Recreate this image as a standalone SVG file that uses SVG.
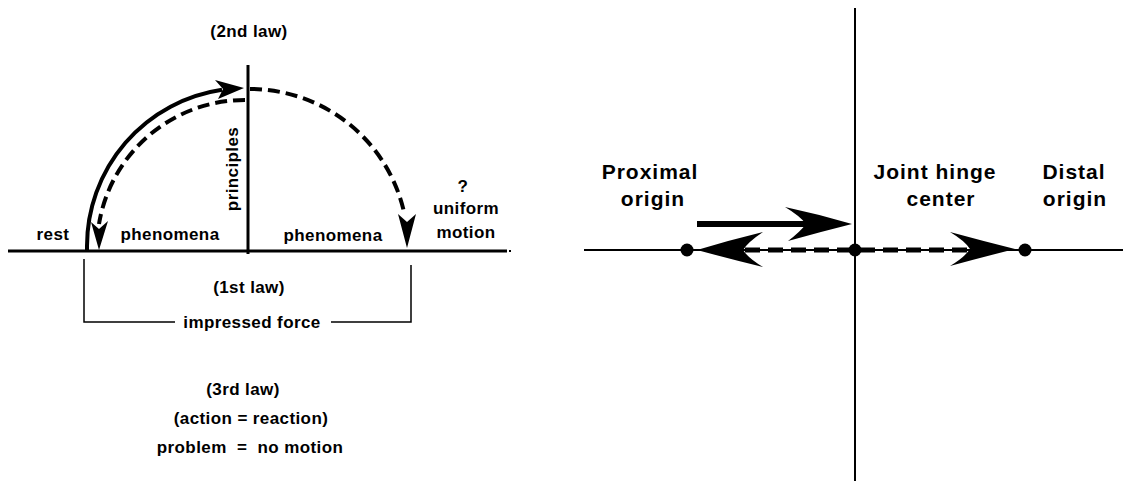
<svg xmlns="http://www.w3.org/2000/svg" width="1123" height="486" viewBox="0 0 1123 486">
<style>
.t{font-family:"Liberation Sans",Arial,sans-serif;font-weight:bold;font-size:17px;fill:#000;text-anchor:middle;letter-spacing:0.4px}
.T{font-family:"Liberation Sans",Arial,sans-serif;font-weight:bold;font-size:21px;fill:#000;text-anchor:middle;letter-spacing:1px}
.ln{stroke:#000;fill:none}
.ah{fill:#000;stroke:none}
.dash{stroke:#000;fill:none;stroke-width:4;stroke-dasharray:12 6}
.dashR{stroke:#000;fill:none;stroke-width:5;stroke-dasharray:15 8}
</style>
<rect width="1123" height="486" fill="#fff"/>

<!-- LEFT DIAGRAM -->
<g id="left-axes">
  <line class="ln" x1="8" y1="251" x2="507" y2="251" stroke-width="3"/>
  <rect x="509" y="250" width="2" height="2" fill="#000"/>
  <line class="ln" x1="248" y1="65" x2="248" y2="254" stroke-width="3"/>
</g>
<g id="bracket">
  <polyline class="ln" stroke-width="1.5" points="84,259 84,322 175,322"/>
  <polyline class="ln" stroke-width="1.5" points="331,322 411,322 411,265"/>
</g>
<g id="connectors">
  <!-- solid arc to principles -->
  <path class="ln" stroke-width="4" d="M87,250 L87,246 A158,158 0 0 1 222,89.7"/>
  <path class="ah" d="M244,88 L215,80 L223,89 L218,99 Z"/>
  <!-- dashed arc back down left -->
  <path class="dash" d="M245,100 A148,148 0 0 0 99,224"/>
  <path class="ah" d="M99,250 L91,222 L99,229 L108,221 Z"/>
  <!-- dashed arc down right -->
  <path class="dash" d="M250,89 A158,158 0 0 1 404,212"/>
  <path class="ah" d="M407,248 L398,214 L407,222 L416,214 Z"/>

  <!-- RIGHT DIAGRAM connectors -->
  <line class="ln" x1="697" y1="224" x2="808" y2="224" stroke-width="6"/>
  <path class="ah" d="M852,224 Q818,214 785,207 Q800,216 806,224 Q800,232 788,241 Q820,232 852,224 Z"/>
  <line class="dashR" x1="745" y1="250" x2="855" y2="250"/>
  <path class="ah" d="M697,250 Q730,240 763,232 Q748,242 743,250 Q748,258 763,267 Q730,259 697,250 Z"/>
  <line class="dashR" x1="860" y1="250" x2="972" y2="250"/>
  <path class="ah" d="M1015,249 Q983,241 950,232 Q965,241 970,249 Q965,257 950,266 Q983,257 1015,249 Z"/>
</g>

<g id="left-labels">
  <text class="t" x="249" y="37">(2nd law)</text>
  <text class="t" transform="translate(238,169) rotate(-90)">principles</text>
  <text class="t" x="53" y="240">rest</text>
  <text class="t" x="170" y="240">phenomena</text>
  <text class="t" x="333" y="241">phenomena</text>
  <text class="t" x="463" y="192">?</text>
  <text class="t" x="466" y="214">uniform</text>
  <text class="t" x="466" y="238">motion</text>
  <text class="t" x="249" y="293">(1st law)</text>
  <text class="t" x="252" y="328">impressed force</text>
  <text class="t" x="243" y="395">(3rd law)</text>
  <text class="t" x="251" y="424">(action = reaction)</text>
  <text class="t" x="250" y="453" xml:space="preserve">problem  =  no motion</text>
</g>

<!-- RIGHT DIAGRAM -->
<g id="right-axes">
  <line class="ln" x1="584" y1="250" x2="1123" y2="250" stroke-width="2"/>
  <line class="ln" x1="855" y1="8" x2="855" y2="481" stroke-width="2"/>
</g>
<g id="proximal-origin">
  <circle cx="687" cy="250" r="6.5" fill="#000"/>
  <text class="T" x="650" y="179">Proximal</text>
  <text class="T" x="653" y="206">origin</text>
</g>
<g id="joint-hinge-center">
  <circle cx="855" cy="250" r="6.5" fill="#000"/>
  <text class="T" x="935" y="179">Joint hinge</text>
  <text class="T" x="941" y="206">center</text>
</g>
<g id="distal-origin">
  <circle cx="1025" cy="250" r="6.5" fill="#000"/>
  <text class="T" x="1074" y="179">Distal</text>
  <text class="T" x="1075" y="206">origin</text>
</g>
</svg>
